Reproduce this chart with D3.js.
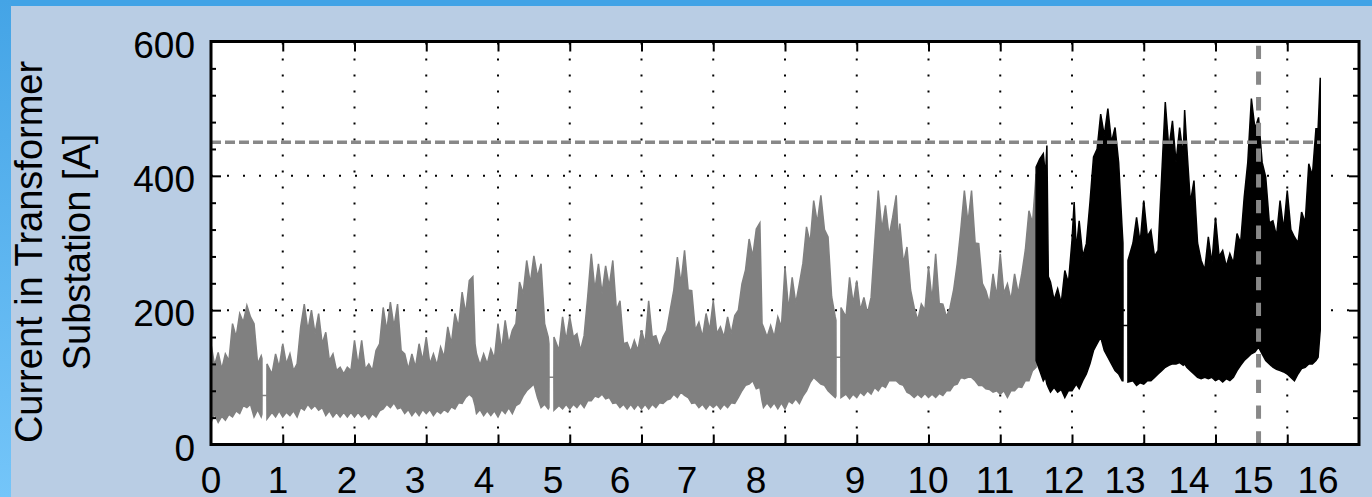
<!DOCTYPE html>
<html>
<head>
<meta charset="utf-8">
<script src="https://cdnjs.cloudflare.com/ajax/libs/d3/7.8.5/d3.min.js"></script>
<style>
  html, body { margin: 0; padding: 0; background: #b9cde4; overflow: hidden; }
  text { font-family: "Liberation Sans", Arial, sans-serif; fill: #000; }
</style>
</head>
<body>
<div id="chart"></div>
<script>
// x tick labels and where each one sits along the axis (axis units)
const xTickLabels = ["0","1","2","3","4","5","6","7","8","9","10","11","12","13","14","15","16"];
const xLabelPos = [0, 0.934, 1.895, 2.843, 3.805, 4.767, 5.701, 6.634, 7.596,
  8.976, 9.993, 10.927, 11.889, 12.739, 13.631, 14.523, 15.429];
const yTickLabels = [0, 200, 400, 600];

const threshold = 450;   // horizontal dashed limit [A]
const markerPos = 14.6;  // vertical dashed marker

// first part of the record (gray): [position, lower envelope, upper envelope] in A
const grayRecord = [
  [0.00, 33, 150], [0.05, 45, 118], [0.10, 33, 137], [0.15, 42, 112], [0.20, 36, 135],
  [0.25, 45, 125], [0.30, 41, 180], [0.35, 50, 160], [0.40, 46, 195], [0.45, 58, 182],
  [0.50, 55, 207], [0.55, 60, 190], [0.60, 41, 180], [0.65, 52, 120], [0.70, 41, 132],
  [0.71, 45, 128], [0.711, 73, 73], [0.779, 73, 73], [0.78, 38, 120],
  [0.85, 48, 105], [0.90, 41, 135], [0.95, 50, 115], [1.00, 41, 150], [1.05, 48, 120],
  [1.10, 43, 135], [1.15, 50, 110], [1.20, 41, 120], [1.25, 55, 175], [1.30, 51, 209],
  [1.35, 60, 170], [1.40, 53, 200], [1.45, 58, 165], [1.50, 51, 195], [1.55, 55, 150],
  [1.60, 43, 167], [1.65, 50, 125], [1.70, 41, 135], [1.75, 48, 110], [1.80, 41, 115],
  [1.85, 48, 105], [1.90, 41, 115], [1.95, 48, 110], [2.00, 41, 155], [2.05, 48, 118],
  [2.10, 41, 155], [2.15, 46, 112], [2.20, 38, 120], [2.25, 46, 110], [2.30, 41, 140],
  [2.35, 50, 150], [2.40, 53, 204], [2.45, 60, 170], [2.50, 55, 212], [2.55, 62, 175],
  [2.60, 53, 209], [2.65, 55, 140], [2.70, 46, 135], [2.75, 52, 112], [2.80, 43, 135],
  [2.85, 50, 115], [2.90, 43, 150], [2.95, 52, 125], [3.00, 46, 160], [3.05, 52, 120],
  [3.10, 43, 135], [3.15, 50, 118], [3.20, 46, 145], [3.25, 52, 130], [3.30, 48, 175],
  [3.35, 56, 150], [3.40, 53, 195], [3.45, 62, 175], [3.50, 61, 227], [3.55, 70, 195],
  [3.60, 75, 244], [3.65, 70, 250], [3.68, 58, 150], [3.70, 46, 135], [3.75, 52, 118],
  [3.80, 43, 135], [3.85, 50, 120], [3.90, 43, 142], [3.95, 50, 128], [4.00, 41, 180],
  [4.05, 52, 140], [4.10, 46, 185], [4.15, 55, 150], [4.20, 46, 170], [4.25, 58, 180],
  [4.30, 61, 242], [4.35, 72, 225], [4.40, 80, 274], [4.45, 85, 240], [4.50, 90, 281],
  [4.55, 70, 250], [4.60, 55, 269], [4.65, 60, 180], [4.70, 53, 160],
  [4.71, 55, 150], [4.711, 100, 100], [4.779, 100, 100], [4.78, 51, 160],
  [4.85, 58, 140], [4.90, 53, 190], [4.95, 60, 155], [5.00, 53, 190], [5.05, 60, 160],
  [5.10, 55, 165], [5.15, 62, 140], [5.20, 55, 162], [5.25, 65, 220], [5.30, 65, 284],
  [5.35, 72, 230], [5.40, 70, 269], [5.45, 75, 225], [5.50, 68, 266], [5.55, 70, 235],
  [5.60, 61, 274], [5.65, 62, 200], [5.70, 55, 214], [5.75, 60, 150], [5.80, 53, 152],
  [5.85, 60, 138], [5.90, 53, 155], [5.95, 60, 140], [6.00, 53, 170], [6.05, 60, 150],
  [6.10, 53, 214], [6.15, 60, 160], [6.20, 55, 162], [6.25, 62, 145], [6.30, 61, 160],
  [6.35, 66, 170], [6.40, 68, 200], [6.45, 75, 230], [6.50, 70, 279], [6.55, 78, 240],
  [6.60, 73, 289], [6.65, 70, 230], [6.70, 61, 229], [6.75, 62, 170], [6.80, 55, 182],
  [6.85, 60, 160], [6.90, 53, 195], [6.95, 60, 170], [7.00, 55, 214], [7.05, 60, 165],
  [7.10, 53, 175], [7.15, 60, 160], [7.20, 55, 190], [7.25, 62, 165], [7.30, 61, 192],
  [7.35, 70, 200], [7.40, 80, 239], [7.45, 88, 260], [7.50, 90, 306], [7.55, 95, 280],
  [7.60, 83, 321], [7.65, 85, 330], [7.68, 65, 180], [7.70, 55, 175], [7.75, 62, 160],
  [7.80, 55, 177], [7.85, 62, 160], [7.90, 53, 190], [7.95, 62, 175], [8.00, 53, 264],
  [8.05, 65, 200], [8.10, 61, 249], [8.15, 68, 210], [8.20, 61, 239], [8.25, 72, 270],
  [8.30, 80, 324], [8.35, 92, 300], [8.40, 100, 363], [8.45, 95, 330], [8.50, 90, 371],
  [8.55, 88, 320], [8.60, 80, 309], [8.65, 75, 220], [8.70, 70, 190],
  [8.71, 72, 185], [8.711, 130, 130], [8.779, 130, 130], [8.78, 70, 204],
  [8.85, 75, 190], [8.90, 68, 249], [8.95, 75, 210], [9.00, 70, 244], [9.05, 78, 200],
  [9.10, 73, 219], [9.15, 80, 195], [9.20, 75, 219], [9.25, 85, 300], [9.30, 80, 378],
  [9.35, 88, 320], [9.40, 85, 356], [9.45, 95, 310], [9.50, 95, 338], [9.55, 95, 371],
  [9.58, 92, 300], [9.60, 90, 329], [9.65, 88, 270], [9.70, 78, 294], [9.75, 75, 230],
  [9.80, 70, 204], [9.85, 75, 185], [9.90, 70, 209], [9.95, 76, 200], [10.00, 70, 264],
  [10.05, 75, 215], [10.10, 70, 284], [10.15, 76, 210], [10.20, 73, 209], [10.25, 80, 190],
  [10.30, 80, 204], [10.35, 88, 230], [10.40, 90, 269], [10.45, 100, 320], [10.50, 98, 378],
  [10.55, 100, 330], [10.60, 100, 378], [10.65, 95, 300], [10.70, 88, 299], [10.75, 88, 240],
  [10.80, 83, 229], [10.85, 82, 210], [10.90, 78, 254], [10.95, 80, 220], [11.00, 75, 284],
  [11.05, 80, 225], [11.10, 70, 239], [11.15, 80, 215], [11.20, 80, 254], [11.25, 86, 225],
  [11.30, 85, 254], [11.35, 95, 290], [11.40, 95, 348], [11.45, 110, 330], [11.50, 115, 403]
];

// second part of the record (black)
const blackRecord = [
  [11.50, 125, 413], [11.55, 110, 425], [11.60, 95, 433], [11.63, 100, 400], [11.65, 90, 445],
  [11.67, 85, 250], [11.70, 78, 242], [11.75, 85, 215], [11.80, 78, 232], [11.85, 82, 210],
  [11.90, 70, 259], [11.95, 80, 240], [12.00, 80, 304], [12.03, 85, 361], [12.06, 90, 290],
  [12.10, 83, 333], [12.15, 95, 280], [12.20, 105, 299], [12.25, 120, 360], [12.30, 140, 428],
  [12.35, 150, 440], [12.40, 160, 492], [12.45, 140, 460], [12.50, 130, 500], [12.55, 120, 450],
  [12.60, 110, 472], [12.65, 105, 420], [12.70, 95, 319],
  [12.71, 95, 300], [12.711, 177, 177], [12.779, 177, 177], [12.78, 93, 274],
  [12.85, 95, 300], [12.90, 88, 338], [12.95, 92, 300], [13.00, 90, 363], [13.05, 95, 310],
  [13.10, 95, 319], [13.15, 100, 280], [13.20, 105, 289], [13.25, 110, 400], [13.30, 115, 510],
  [13.35, 118, 440], [13.40, 120, 482], [13.45, 120, 420], [13.50, 122, 472], [13.55, 118, 430],
  [13.57, 120, 498], [13.60, 115, 443], [13.65, 110, 360], [13.70, 105, 393], [13.75, 100, 300],
  [13.80, 98, 274], [13.85, 100, 260], [13.90, 98, 309], [13.95, 100, 270], [14.00, 95, 338],
  [14.05, 98, 280], [14.10, 93, 289], [14.15, 98, 265], [14.20, 95, 284], [14.25, 100, 270],
  [14.30, 110, 314], [14.35, 118, 300], [14.40, 125, 368], [14.45, 130, 420], [14.50, 135, 515],
  [14.55, 138, 470], [14.60, 145, 487], [14.65, 135, 420], [14.70, 125, 398], [14.75, 120, 330],
  [14.80, 115, 333], [14.85, 112, 310], [14.90, 110, 363], [14.95, 108, 320], [15.00, 105, 378],
  [15.05, 100, 320], [15.10, 95, 309], [15.15, 105, 300], [15.20, 113, 346], [15.25, 115, 330],
  [15.30, 120, 418], [15.35, 120, 400], [15.40, 125, 470], [15.43, 130, 470], [15.46, 171, 546]
];

const W = 1372, H = 497;

const svg = d3.select("#chart")
  .append("svg")
  .attr("width", W)
  .attr("height", H);

// background and the blue slide strips
const grad = svg.append("defs").append("linearGradient")
  .attr("id", "sideGrad")
  .attr("x1", 0).attr("y1", 0).attr("x2", 0).attr("y2", 1);
grad.append("stop").attr("offset", "0%").attr("stop-color", "#44a4e6");
grad.append("stop").attr("offset", "100%").attr("stop-color", "#74c5f9");

svg.append("rect").attr("width", W).attr("height", H).attr("fill", "#b9cde4");
svg.append("rect").attr("width", W).attr("height", 6).attr("fill", "#41a3e6");
svg.append("rect").attr("width", 11).attr("height", H).attr("fill", "url(#sideGrad)");

// scales
const x = d3.scaleLinear().domain([0, 16]).range([211, 1359]);
const y = d3.scaleLinear().domain([0, 600]).range([444.5, 41.5]);

// plot area
svg.append("rect")
  .attr("x", x(0)).attr("y", y(600))
  .attr("width", x(16) - x(0)).attr("height", y(0) - y(600))
  .attr("fill", "#fff");

// dotted grid
svg.append("g").selectAll("line")
  .data(d3.range(1, 16))
  .enter().append("line")
  .attr("x1", d => x(d)).attr("x2", d => x(d))
  .attr("y1", y(0)).attr("y2", y(600))
  .attr("stroke", "#000").attr("stroke-width", 2)
  .attr("stroke-dasharray", "2,14");

svg.append("g").selectAll("line")
  .data([200, 400])
  .enter().append("line")
  .attr("x1", x(0)).attr("x2", x(16))
  .attr("y1", d => y(d)).attr("y2", d => y(d))
  .attr("stroke", "#000").attr("stroke-width", 2)
  .attr("stroke-dasharray", "2,14");

// data: band between the lower and upper envelope
const area = d3.area()
  .x(d => x(d[0]))
  .y0(d => y(d[1]))
  .y1(d => y(d[2]));

svg.append("path")
  .attr("d", area(grayRecord))
  .attr("fill", "#808080")
  .attr("stroke", "#808080")
  .attr("stroke-width", 1.5);

svg.append("path")
  .attr("d", area(blackRecord))
  .attr("fill", "#000")
  .attr("stroke", "#000")
  .attr("stroke-width", 1.5);

// limit and marker lines
svg.append("line")
  .attr("x1", x(0)).attr("x2", x(blackRecord[blackRecord.length - 1][0]))
  .attr("y1", y(threshold)).attr("y2", y(threshold))
  .attr("stroke", "#888").attr("stroke-width", 3.5)
  .attr("stroke-dasharray", "10,4");

svg.append("line")
  .attr("x1", x(markerPos)).attr("x2", x(markerPos))
  .attr("y1", y(0)).attr("y2", y(600))
  .attr("stroke", "#888").attr("stroke-width", 5)
  .attr("stroke-dasharray", "13.3,12.4");

// inward ticks on all four sides
function ticks(axis, tx, ty) {
  const g = svg.append("g")
    .attr("transform", "translate(" + tx + "," + ty + ")")
    .call(axis);
  g.select(".domain").remove();
  g.selectAll("text").remove();
  g.selectAll("line").attr("stroke", "#000").attr("stroke-width", 2);
}

const xt = d3.range(1, 16);
const yMinor = d3.range(40, 600, 40).filter(v => v % 200 !== 0);
ticks(d3.axisBottom(x).tickValues(xt).tickSize(-10), 0, y(0));
ticks(d3.axisTop(x).tickValues(xt).tickSize(-10), 0, y(600));
ticks(d3.axisLeft(y).tickValues([200, 400]).tickSize(-10), x(0), 0);
ticks(d3.axisLeft(y).tickValues(yMinor).tickSize(-5), x(0), 0);
ticks(d3.axisRight(y).tickValues([200, 400]).tickSize(-10), x(16), 0);
ticks(d3.axisRight(y).tickValues(yMinor).tickSize(-6), x(16), 0);

// frame
svg.append("rect")
  .attr("x", x(0)).attr("y", y(600))
  .attr("width", x(16) - x(0)).attr("height", y(0) - y(600))
  .attr("fill", "none")
  .attr("stroke", "#000")
  .attr("stroke-width", 3);

// tick labels
svg.append("g").selectAll("text")
  .data(yTickLabels)
  .enter().append("text")
  .attr("x", 195)
  .attr("y", d => y(d) + 16)
  .attr("text-anchor", "end")
  .style("font-size", "37px")
  .text(d => d);

svg.append("g").selectAll("text")
  .data(xTickLabels)
  .enter().append("text")
  .attr("x", (d, i) => x(xLabelPos[i]))
  .attr("y", 493)
  .attr("text-anchor", "middle")
  .style("font-size", "37px")
  .text(d => d);

// y axis title, two lines
const title = svg.append("g")
  .attr("transform", "translate(0,252) rotate(-90)");
title.append("text")
  .attr("x", 0).attr("y", 42)
  .attr("text-anchor", "middle")
  .style("font-size", "38px")
  .text("Current in Transformer");
title.append("text")
  .attr("x", 0).attr("y", 90)
  .attr("text-anchor", "middle")
  .style("font-size", "38px")
  .text("Substation [A]");
</script>
</body>
</html>
